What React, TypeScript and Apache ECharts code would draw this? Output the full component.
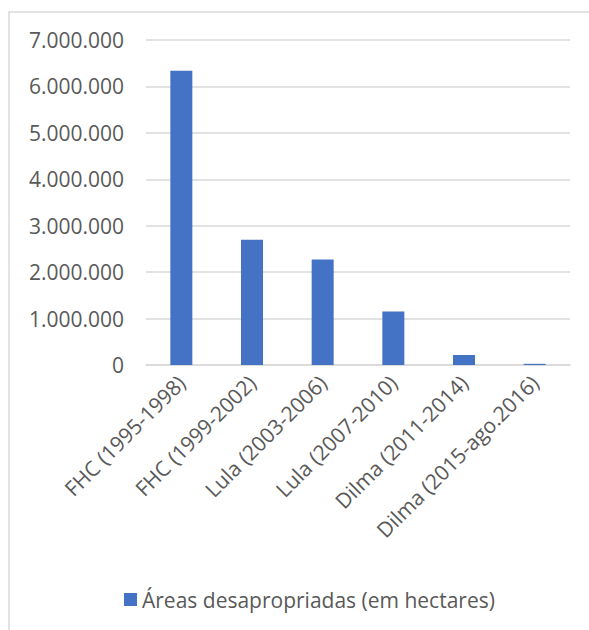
import React, { useEffect, useRef } from "react";
import * as echarts from "echarts";

const categories = [
  "FHC (1995-1998)",
  "FHC (1999-2002)",
  "Lula (2003-2006)",
  "Lula (2007-2010)",
  "Dilma (2011-2014)",
  "Dilma (2015-ago.2016)",
];
const areas = [6340000, 2700000, 2270000, 1150000, 215000, 25000];
const seriesName = "Áreas desapropriadas (em hectares)";

const FONT = "'Open Sans', 'Noto Sans', sans-serif";
const TXT = "#595959";

function fmt(v: number): string {
  const s = Math.round(v).toString();
  return s.replace(/\B(?=(\d{3})+(?!\d))/g, ".");
}

export default function App() {
  const ref = useRef<HTMLDivElement>(null);
  useEffect(() => {
    if (!ref.current) return;
    const chart = echarts.init(ref.current, undefined, { renderer: "svg" });
    chart.setOption({
      animation: false,
      backgroundColor: "#ffffff",
      graphic: [
        {
          type: "rect",
          shape: { x: 9, y: 12, width: 640, height: 700 },
          style: { fill: "none", stroke: "#d9d9d9", lineWidth: 1.5 },
          silent: true,
        },
      ],
      grid: { left: 146, right: 19, top: 40, bottom: 265, containLabel: false },
      xAxis: {
        type: "category",
        data: categories,
        axisLine: { show: true, lineStyle: { color: "#d9d9d9", width: 1.5 } },
        axisTick: { show: false },
        axisLabel: {
          rotate: 45,
          interval: 0,
          margin: 14,
          color: TXT,
          fontFamily: FONT,
          fontSize: 21,
        },
      },
      yAxis: {
        type: "value",
        min: 0,
        max: 7000000,
        interval: 1000000,
        axisLine: { show: false },
        axisTick: { show: false },
        splitLine: { lineStyle: { color: "#d9d9d9", width: 1.5 } },
        axisLabel: {
          formatter: (v: number) => fmt(v),
          color: TXT,
          fontFamily: FONT,
          fontSize: 21,
          margin: 22,
        },
      },
      legend: {
        show: true,
        left: 119,
        top: 584,
        icon: "rect",
        itemWidth: 13,
        itemHeight: 13,
        itemGap: 5,
        textStyle: { color: TXT, fontFamily: FONT, fontSize: 21 },
        data: [seriesName],
      },
      series: [
        {
          name: seriesName,
          type: "bar",
          data: areas,
          barWidth: 22,
          itemStyle: { color: "#4472C4" },
        },
      ],
    });
    return () => chart.dispose();
  }, []);
  return (
    <div
      ref={ref}
      style={{ position: "fixed", left: 0, top: 0, width: 589, height: 630 }}
    />
  );
}
